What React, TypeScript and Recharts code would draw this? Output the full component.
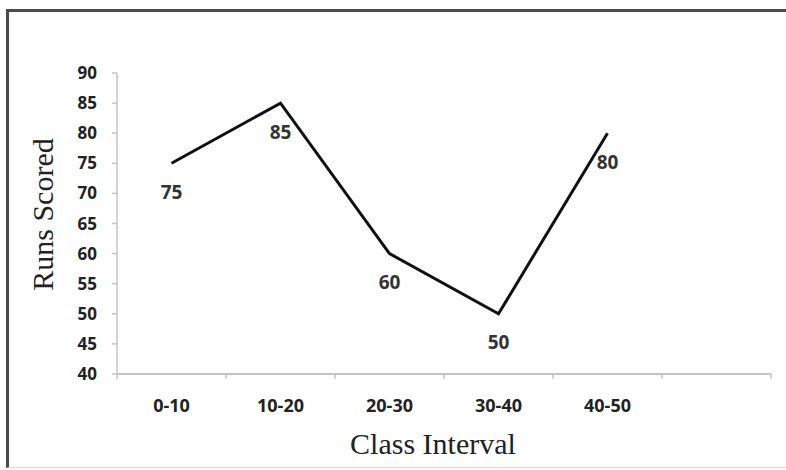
import React from 'react'
import { LineChart, Line, XAxis, YAxis, LabelList, Label } from 'recharts'

const categories = ['0-10', '10-20', '20-30', '30-40', '40-50', '']
const runs: (number | null)[] = [75, 85, 60, 50, 80, null]
const yTicks = [40, 45, 50, 55, 60, 65, 70, 75, 80, 85, 90]

const data = categories.map((c, i) => ({ interval: c, runs: runs[i] }))

const AXIS_GREY = '#c4c4c4'
const TICK_FONT = '"Open Sans", "DejaVu Sans", sans-serif'
const TITLE_FONT = '"Liberation Serif", "Times New Roman", serif'

// Excel-style category axis: tick marks sit on band edges, labels in the middle
function ClassTick(props: any) {
  const { x, y, payload, index } = props
  const half = payload?.offset ?? 0
  const last = index === categories.length - 1
  return (
    <g>
      <line x1={x - half} y1={y} x2={x - half} y2={y + 5} stroke={AXIS_GREY} strokeWidth={1.5} />
      {last && <line x1={x + half} y1={y} x2={x + half} y2={y + 5} stroke={AXIS_GREY} strokeWidth={1.5} />}
      <text
        x={x}
        y={y + 38}
        textAnchor="middle"
        fontFamily={TICK_FONT}
        fontWeight={700}
        fontSize={18}
        fill="#222"
      >
        {payload.value}
      </text>
    </g>
  )
}

function YTitle({ viewBox }: any) {
  const cx = viewBox.x + 42
  const cy = viewBox.y + viewBox.height / 2 - 9
  return (
    <text
      x={cx}
      y={cy}
      transform={`rotate(-90, ${cx}, ${cy})`}
      textAnchor="middle"
      dominantBaseline="central"
      fontFamily={TITLE_FONT}
      fontSize={30}
      fill="#222"
    >
      Runs Scored
    </text>
  )
}

function XTitle({ viewBox }: any) {
  const cx = viewBox.x + viewBox.width / 2 - 11
  const cy = viewBox.y + 69
  return (
    <text
      x={cx}
      y={cy}
      textAnchor="middle"
      dominantBaseline="central"
      fontFamily={TITLE_FONT}
      fontSize={30}
      fill="#222"
    >
      Class Interval
    </text>
  )
}

export default function App() {
  return (
    <div style={{ position: 'absolute', left: 0, top: 0, width: 786, height: 470, background: '#fff', overflow: 'hidden' }}>
      <div
        style={{
          position: 'absolute',
          left: 6,
          top: 9,
          width: 800,
          height: 455,
          borderTop: '3px solid #4a4a4a',
          borderLeft: '3px solid #4a4a4a',
          borderBottom: '1px solid #d8d8d8',
        }}
      />
      <div style={{ position: 'absolute', left: 0, top: 0 }}>
        <LineChart width={786} height={470} data={data} margin={{ top: 73, right: 15, left: 0, bottom: 0 }}>
          <XAxis
            dataKey="interval"
            scale="band"
            height={96}
            axisLine={{ stroke: AXIS_GREY, strokeWidth: 2 }}
            tickLine={false}
            tickSize={0}
            tickMargin={0}
            interval={0}
            tick={<ClassTick />}
          >
            <Label content={<XTitle />} />
          </XAxis>
          <YAxis
            domain={[40, 90]}
            ticks={yTicks}
            width={117}
            interval={0}
            axisLine={{ stroke: AXIS_GREY, strokeWidth: 1.5 }}
            tickLine={{ stroke: AXIS_GREY, strokeWidth: 1.5 }}
            tickSize={5}
            tickMargin={15}
            tick={{ fontFamily: TICK_FONT, fontWeight: 700, fontSize: 17, fill: '#222' }}
          >
            <Label content={<YTitle />} />
          </YAxis>
          <Line
            type="linear"
            dataKey="runs"
            stroke="#111"
            strokeWidth={3}
            dot={false}
            activeDot={false}
            isAnimationActive={false}
          >
            <LabelList
              dataKey="runs"
              position="bottom"
              offset={22}
              style={{ fontFamily: TICK_FONT, fontWeight: 700, fontSize: 19, fill: '#333' }}
            />
          </Line>
        </LineChart>
      </div>
    </div>
  )
}
